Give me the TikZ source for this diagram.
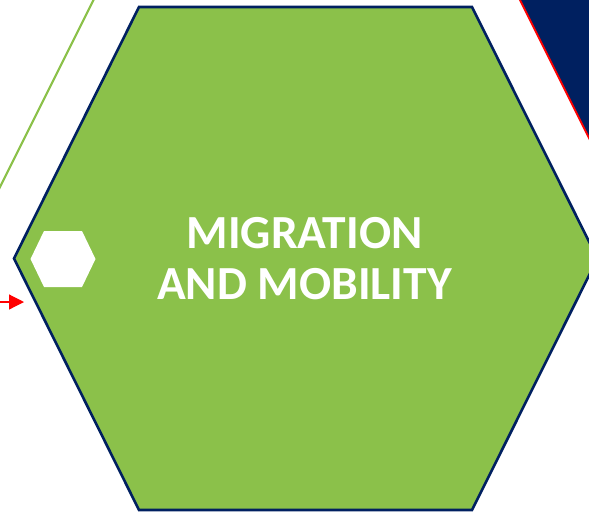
\documentclass[tikz,border=0pt]{standalone}
\usepackage{fontspec}
\setmainfont{Carlito}
\usetikzlibrary{arrows.meta}
\definecolor{hexgreen}{HTML}{8BC14A}
\definecolor{navy}{HTML}{002060}
\definecolor{arrred}{HTML}{FF0000}
\tikzset{
  mainhex/.style={fill=hexgreen, draw=navy, line width=2.6pt, line join=miter},
  smallhex/.style={fill=white, draw=none},
  deco/.style={draw=hexgreen, line width=2.2pt},
  redarrow/.style={draw=arrred, line width=1.2pt, -{Triangle[length=15pt,width=15pt]}},
  title/.style={text=white, font=\fontsize{47.5}{51}\selectfont\bfseries, align=center}
}
\begin{document}
\begin{tikzpicture}[x=1pt,y=-1pt]
\useasboundingbox (0,0) rectangle (589,515);
\clip (0,0) rectangle (589,515);
% navy shape top right
\fill[navy] (520,0) -- (589,138) -- (600,138) -- (600,-5) -- cycle;
\draw[arrred, line width=2pt] (517.5,-5) -- (590,140);
% green decorative line
\draw[deco] (95.5,-4) -- (-2,191);
% main hexagon
\draw[mainhex] (139,7) -- (472,7) -- (597.5,258.5) -- (472,510) -- (139,510) -- (14,258.5) -- cycle;
\node[title] (t) at (304.5,258.5) {MIGRATION\\AND MOBILITY};
% small white hexagon
\fill[smallhex] (44,231) -- (82,231) -- (95.5,259) -- (82,287) -- (44,287) -- (30.5,259) -- cycle;
% red arrow
\coordinate (a0) at (-2,302);
\coordinate (a1) at (24,302);
\draw[redarrow] (a0) -- (a1);
\end{tikzpicture}
\end{document}
